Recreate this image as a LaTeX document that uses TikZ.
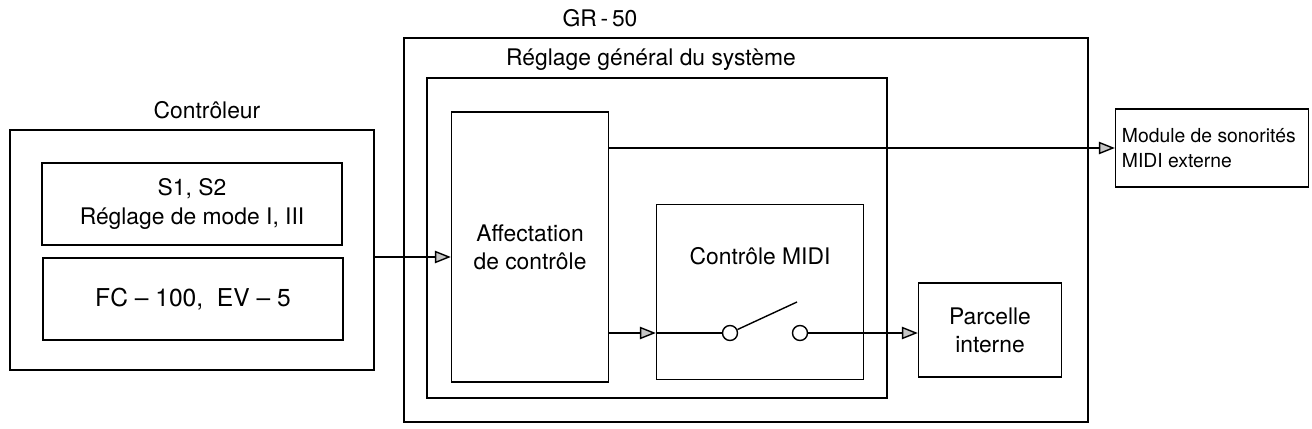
\documentclass[tikz,border=0pt]{standalone}
\usepackage{fontspec}
\setmainfont{TeX Gyre Heros}
\usetikzlibrary{arrows.meta}

\begin{document}
\begin{tikzpicture}[x=0.02cm,y=-0.02cm,
  font=\fontsize{13}{16}\selectfont,
  blk/.style={draw,thick,inner sep=0pt,align=center},
  flow/.style={thick,-{Triangle[length=9pt,width=7pt,fill=gray!45]}}]
  \useasboundingbox (0,0) rectangle (1312,429);

  % controller side
  \node (ctl) [blk,minimum width=364*0.02cm,minimum height=240*0.02cm] at (192,250) {};
  \node (ctllab) at (207,110) {Contrôleur};
  \node (sw) [blk,minimum width=300*0.02cm,minimum height=82*0.02cm] at (192,204) {S1, S2\\Réglage de mode I, III};
  \node (fc) [blk,minimum width=300*0.02cm,minimum height=82*0.02cm,font=\fontsize{14}{16}\selectfont] at (193,299) {FC -- 100,\ \ EV -- 5};

  % GR-50
  \node (gr) [blk,minimum width=684*0.02cm,minimum height=384*0.02cm] at (746,230) {};
  \node (grlab) at (600,18) {GR\,-\,50};
  \node (sys) [blk,minimum width=460*0.02cm,minimum height=320*0.02cm] at (657,238) {};
  \node (syslab) [anchor=west] at (500,60) {Réglage général du système};
  \node (aff) [blk,minimum width=157*0.02cm,minimum height=270*0.02cm] at (530,247) {Affectation\\de contrôle};
  \node (midi) [blk,minimum width=207*0.02cm,minimum height=175*0.02cm,text depth=41pt] at (760,292) {Contrôle MIDI};
  \node (parc) [blk,minimum width=143*0.02cm,minimum height=94*0.02cm] at (990,330) {Parcelle\\interne};
  \node (ext) [blk,minimum width=193*0.02cm,minimum height=78*0.02cm,align=left,font=\fontsize{11}{14}\selectfont] at (1212,148) {Module de sonorités\\MIDI externe\hspace*{40pt}};

  % switch
  \node (sa) [draw,thick,circle,minimum size=15*0.02cm,inner sep=0pt] at (730,333) {};
  \node (sb) [draw,thick,circle,minimum size=15*0.02cm,inner sep=0pt] at (800,333) {};
  \coordinate (lever) at (797,302);
  \draw[thick] (sa) -- (lever);

  % connectors
  \draw[flow] (ctl.east |- 0,257) -- (aff.west |- 0,257);
  \draw[flow] (aff.east |- ext.west) -- (ext.west);
  \draw[flow] (aff.east |- sa) -- (midi.west |- sa);
  \draw[thick] (midi.west |- sa) -- (sa);
  \draw[flow] (sb) -- (parc.west |- sb);
\end{tikzpicture}
\end{document}
